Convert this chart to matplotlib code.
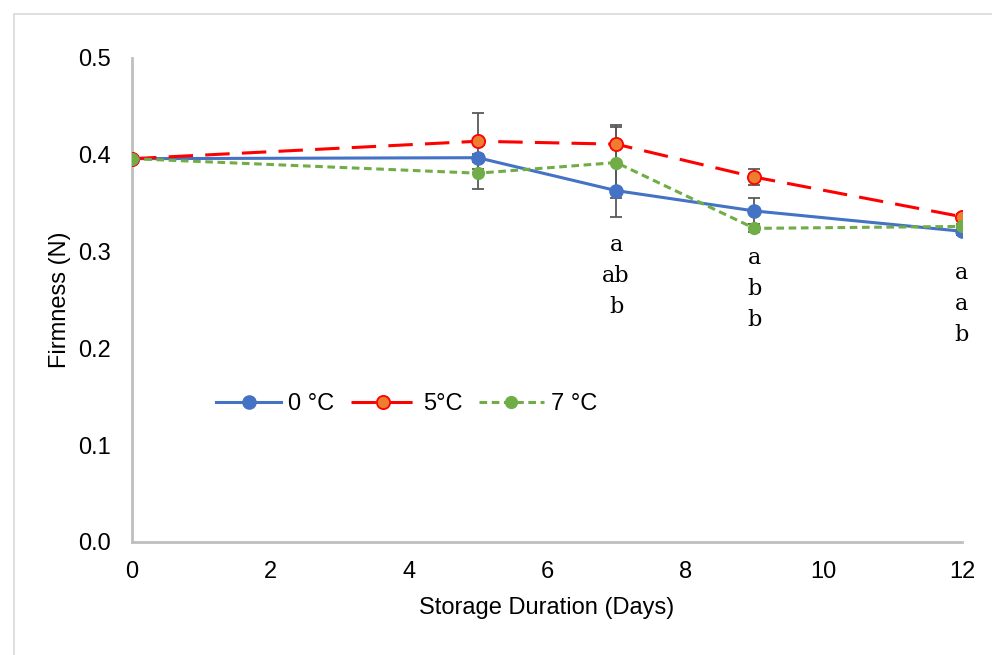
import numpy as np
import matplotlib.pyplot as plt
from matplotlib.patches import Rectangle
from matplotlib.lines import Line2D

days = [0, 5, 7, 9, 12]

firm_0c = [0.396, 0.397, 0.363, 0.342, 0.321]
firm_5c = [0.396, 0.414, 0.411, 0.377, 0.336]
firm_7c = [0.396, 0.381, 0.392, 0.324, 0.326]

err_0c = [0.0, 0.004, 0.027, 0.013, 0.004]
err_5c = [0.0, 0.029, 0.020, 0.008, 0.003]
err_7c = [0.0, 0.016, 0.037, 0.004, 0.003]

# significance letters (top to bottom: 0, 5, 7 °C)
letter_days = [7, 9, 12]
letters = [["a", "ab", "b"], ["a", "b", "b"], ["a", "a", "b"]]
letter_top = [0.307, 0.293, 0.278]

plt.rcParams['font.family'] = ['Liberation Sans', 'DejaVu Sans']

fig = plt.figure(figsize=(9.92, 6.55), dpi=100)
ax = fig.add_axes([132/992, 113/655, 830/992, 484/655])

fig.patches.append(Rectangle((14/992, -0.01), 1.0, (655-14)/655 + 0.01,
                             transform=fig.transFigure, fill=False,
                             edgecolor='#d9d9d9', linewidth=1.2))

ecol = '#595959'
ebkw = dict(fmt='none', ecolor=ecol, elinewidth=1.3, capsize=4, capthick=1.3)
ax.errorbar(days, firm_0c, yerr=err_0c, zorder=2, **ebkw)
ax.errorbar(days, firm_5c, yerr=err_5c, zorder=2, **ebkw)
ax.errorbar(days, firm_7c, yerr=err_7c, zorder=2, **ebkw)

style_0 = dict(color='#4472C4', lw=2.2, marker='o', ms=9.5, mec='#4472C4')
style_5 = dict(color='#FF0000', lw=2.2, marker='o', ms=9.5, mfc='#ED7D31',
               mec='#FF0000', mew=1.3, dashes=(8, 4))
style_7 = dict(color='#70AD47', lw=2.2, marker='o', ms=8.5, mec='#70AD47',
               dashes=(2.5, 1.5))
ax.plot(days, firm_0c, zorder=3, **style_0)
ax.plot(days, firm_5c, zorder=4, **style_5)
ax.plot(days, firm_7c, zorder=5, **style_7)

for d, labs, top in zip(letter_days, letters, letter_top):
    for i, s in enumerate(labs):
        ax.text(d, top - i * 0.032, s, family='DejaVu Serif', fontsize=16,
                ha='center', va='center')

ax.set_xlim(0, 12)
ax.set_ylim(0, 0.5)
ax.set_xticks(np.arange(0, 13, 2))
ax.set_yticks(np.arange(0, 0.51, 0.1))
ax.set_yticklabels(['%.1f' % v for v in np.arange(0, 0.51, 0.1)])
ax.tick_params(length=0, labelsize=17, colors='#000000')
ax.tick_params(axis='y', pad=15)
ax.tick_params(axis='x', pad=14)
for side in ['top', 'right']:
    ax.spines[side].set_visible(False)
for side in ['left', 'bottom']:
    ax.spines[side].set_color('#bfbfbf')
    ax.spines[side].set_linewidth(2)
ax.set_xlabel('Storage Duration (Days)', fontsize=17, labelpad=10)
ax.set_ylabel('Firmness (N)', fontsize=17, labelpad=5)

handles = [Line2D([], [], **style_0), Line2D([], [], **style_5),
           Line2D([], [], **style_7)]
ax.legend(handles, ['0 °C', '5°C', '7 °C'], loc='center',
          bbox_to_anchor=(0.331, 0.285), ncol=3, frameon=False,
          fontsize=17, handlelength=2.75, columnspacing=0.7,
          handletextpad=0.3, borderpad=0)

fig.savefig('out.png', dpi=100)
